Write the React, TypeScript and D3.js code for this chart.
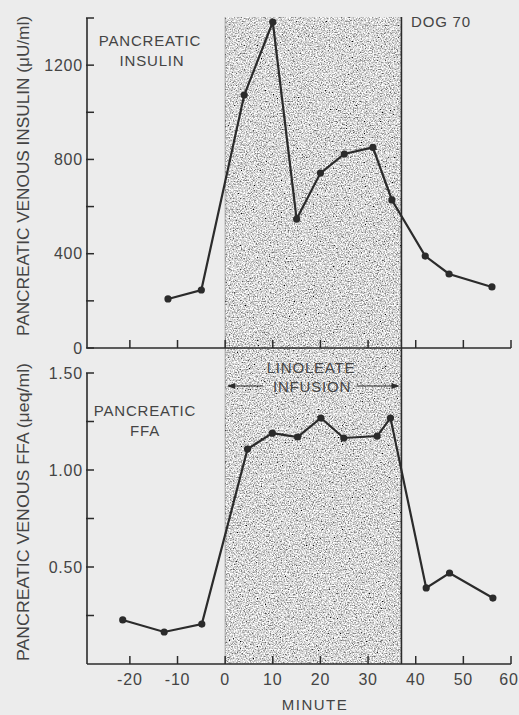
import React from "react";
import * as d3 from "d3";

const insulinMinutes = [-12, -5, 4, 10, 15, 20, 25, 31, 35, 42, 47, 56];
const insulinValues = [208, 246, 1073, 1383, 547, 742, 823, 851, 628, 390, 314, 259];

const ffaMinutes = [-21.5, -12.8, -4.9, 4.7, 9.9, 15.2, 20.1, 24.9, 31.9, 34.7, 42.2, 47.1, 56.2];
const ffaValues = [0.227, 0.165, 0.206, 1.108, 1.19, 1.17, 1.268, 1.165, 1.175, 1.268, 0.392, 0.469, 0.34];

const xTicks = [-20, -10, 0, 10, 20, 30, 40, 50, 60];
const insulinTicks = [0, 200, 400, 600, 800, 1000, 1200, 1400];
const insulinLabels = [0, 400, 800, 1200];
const ffaTicks = [0.25, 0.5, 0.75, 1.0, 1.25, 1.5];
const ffaLabels = [0.5, 1.0, 1.5];
const infusion = [0, 37];

const W = 519;
const H = 715;
const ink = "#2b2b2b";
const textInk = "#444";
const paper = "#ececec";
const font = "'Liberation Sans', Arial, sans-serif";

export default function App() {
  const x = d3.scaleLinear().domain([-29, 60]).range([87, 511]);
  const yTop = d3.scaleLinear().domain([0, 1400]).range([348, 18]);
  const yBot = d3.scaleLinear().domain([0, 1.5]).range([664, 373]);

  const insulinData = insulinMinutes.map((m, i) => [m, insulinValues[i]] as [number, number]);
  const ffaData = ffaMinutes.map((m, i) => [m, ffaValues[i]] as [number, number]);

  const lineTop = d3.line<[number, number]>().x(d => x(d[0])).y(d => yTop(d[1]));
  const lineBot = d3.line<[number, number]>().x(d => x(d[0])).y(d => yBot(d[1]));

  const x0 = x(infusion[0]);
  const x1 = x(infusion[1]);
  const x60 = x(60);
  const axX = x.range()[0];

  const tickStyle = { fontFamily: font, fontSize: 16, fill: textInk, letterSpacing: 0.8 } as const;

  return (
    <svg width={W} height={H} style={{ position: "absolute", left: 0, top: 0 }}>
      <defs>
        <filter id="stipple" x="0" y="0" width="1" height="1" filterUnits="objectBoundingBox">
          <feTurbulence type="fractalNoise" baseFrequency="0.75" numOctaves={2} seed={7} result="t" />
          <feColorMatrix
            in="t"
            type="matrix"
            values="2.0 0 0 0 -0.32  2.0 0 0 0 -0.32  2.0 0 0 0 -0.32  0 0 0 0 1"
          />
        </filter>
      </defs>
      <rect x={0} y={0} width={W} height={H} fill={paper} />

      {/* infusion shading */}
      <rect x={x0} y={17} width={x1 - x0} height={yBot(0) - 17} fill="#999" filter="url(#stipple)" />
      <line x1={x1} x2={x1} y1={17} y2={yBot(0)} stroke={ink} strokeWidth={1.6} />
      <line x1={x0} x2={x0} y1={17} y2={yBot(0)} stroke="#777" strokeWidth={0.6} />

      {/* top panel axes */}
      <line x1={axX} x2={axX} y1={yTop(1400)} y2={yTop(0)} stroke={ink} strokeWidth={1.6} />
      {insulinTicks.map(t => (
        <line key={"it" + t} x1={axX - 1} x2={axX + 7} y1={yTop(t)} y2={yTop(t)} stroke={ink} strokeWidth={1.5} />
      ))}
      {insulinLabels.map(t => (
        <text key={"il" + t} x={83} y={yTop(t)} dy="0.36em" textAnchor="end" style={tickStyle}>
          {t}
        </text>
      ))}
      <line x1={axX} x2={x60} y1={yTop(0)} y2={yTop(0)} stroke={ink} strokeWidth={1.6} />
      {xTicks.map(t => (
        <line key={"xt1" + t} x1={x(t)} x2={x(t)} y1={yTop(0)} y2={yTop(0) - 8} stroke={ink} strokeWidth={1.5} />
      ))}

      {/* bottom panel axes */}
      <line x1={axX} x2={axX} y1={yBot(1.5)} y2={yBot(0)} stroke={ink} strokeWidth={1.6} />
      {ffaTicks.map(t => (
        <line key={"ft" + t} x1={axX - 1} x2={axX + 7} y1={yBot(t)} y2={yBot(t)} stroke={ink} strokeWidth={1.5} />
      ))}
      {ffaLabels.map(t => (
        <text key={"fl" + t} x={83} y={yBot(t)} dy="0.36em" textAnchor="end" style={tickStyle}>
          {t.toFixed(2)}
        </text>
      ))}
      <line x1={axX} x2={x60} y1={yBot(0)} y2={yBot(0)} stroke={ink} strokeWidth={1.6} />
      {xTicks.map(t => (
        <line key={"xt2" + t} x1={x(t)} x2={x(t)} y1={yBot(0)} y2={yBot(0) - 8} stroke={ink} strokeWidth={1.5} />
      ))}
      {xTicks.map(t => (
        <text
          key={"xl" + t}
          x={t === 60 ? Math.min(x(t), W - 10) : x(t)}
          y={679}
          dy="0.36em"
          textAnchor="middle"
          style={tickStyle}
        >
          {t}
        </text>
      ))}
      <text x={315} y={705} dy="0.36em" textAnchor="middle" style={{ ...tickStyle, fontSize: 15, letterSpacing: 1.5 }}>
        MINUTE
      </text>

      {/* axis titles */}
      <text
        transform={`translate(23,176) rotate(-90)`}
        textAnchor="middle"
        dy="0.36em"
        textLength={320}
        lengthAdjust="spacingAndGlyphs"
        style={{ fontFamily: font, fontSize: 16, fill: textInk }}
      >
        PANCREATIC VENOUS INSULIN (μU/ml)
      </text>
      <text
        transform={`translate(23,512) rotate(-90)`}
        textAnchor="middle"
        dy="0.36em"
        textLength={298}
        lengthAdjust="spacingAndGlyphs"
        style={{ fontFamily: font, fontSize: 16, fill: textInk }}
      >
        PANCREATIC VENOUS FFA (μeq/ml)
      </text>

      {/* annotations */}
      <g style={{ fontFamily: font, fontSize: 15, fill: textInk, letterSpacing: 0.8 }} textAnchor="middle">
        <text x={150} y={41} dy="0.36em">PANCREATIC</text>
        <text x={152} y={61} dy="0.36em">INSULIN</text>
        <text x={441} y={22} dy="0.36em">DOG 70</text>
        <text x={145} y={411} dy="0.36em">PANCREATIC</text>
        <text x={145} y={431} dy="0.36em">FFA</text>
        <text x={311} y={368} dy="0.36em">LINOLEATE</text>
        <text x={312} y={387} dy="0.36em">INFUSION</text>
      </g>
      {/* arrows */}
      <line x1={263} x2={x0 + 3} y1={386} y2={386} stroke={ink} strokeWidth={1.2} />
      <path d={`M${x0 + 2},386 l8,-3 l0,6 z`} fill={ink} />
      <line x1={357} x2={x1 - 3} y1={386} y2={386} stroke={ink} strokeWidth={1.2} />
      <path d={`M${x1 - 2},386 l-8,-3 l0,6 z`} fill={ink} />

      {/* data */}
      <path d={lineTop(insulinData) ?? ""} fill="none" stroke={ink} strokeWidth={2.2} />
      {insulinData.map((d, i) => (
        <circle key={"ip" + i} cx={x(d[0])} cy={yTop(d[1])} r={3.6} fill={ink} />
      ))}
      <path d={lineBot(ffaData) ?? ""} fill="none" stroke={ink} strokeWidth={2.2} />
      {ffaData.map((d, i) => (
        <circle key={"fp" + i} cx={x(d[0])} cy={yBot(d[1])} r={3.6} fill={ink} />
      ))}
    </svg>
  );
}
